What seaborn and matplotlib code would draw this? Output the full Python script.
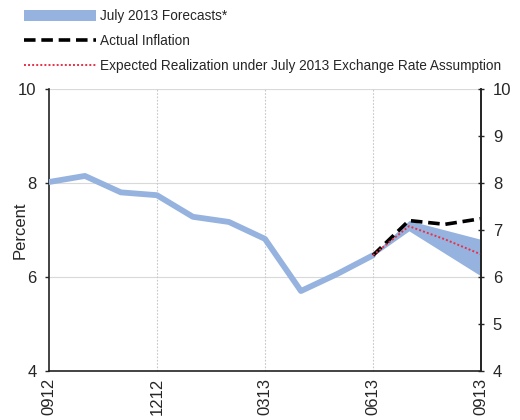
import numpy as np
import pandas as pd
import matplotlib
matplotlib.use("Agg")
import matplotlib.pyplot as plt
import seaborn as sns
from matplotlib.patches import Patch
from matplotlib.lines import Line2D

# months since 09/2012
hist_month = [0, 1, 2, 3, 4, 5, 6, 7, 8, 9]
hist_value = [8.02, 8.15, 7.80, 7.74, 7.28, 7.17, 6.81, 5.70, 6.06, 6.46]

fan_month = [9, 10, 11, 12]
fan_low = [6.44, 6.98, 6.50, 6.02]
fan_high = [6.48, 7.20, 7.00, 6.80]

actual_month = [9, 10, 11, 12]
actual_value = [6.46, 7.20, 7.12, 7.24]

expected_month = [9, 10, 11, 12]
expected_value = [6.46, 7.08, 6.80, 6.48]

tick_months = [0, 3, 6, 9, 12]
tick_labels = ["0912", "1212", "0313", "0613", "0913"]

sns.set_style("white")
plt.rcParams['font.family'] = ['Liberation Sans', 'DejaVu Sans']

blue = "#95b3de"
red = "#e8304a"

fig = plt.figure(figsize=(5.2, 4.2), dpi=100)
ax = fig.add_axes([0.094, 0.117, 0.831, 0.671])

hist = pd.DataFrame({"month": hist_month, "value": hist_value})
actual = pd.DataFrame({"month": actual_month, "value": actual_value})
expected = pd.DataFrame({"month": expected_month, "value": expected_value})

ax.fill_between(fan_month, fan_low, fan_high, color=blue, lw=0, zorder=2)
sns.lineplot(data=hist, x="month", y="value", ax=ax, color=blue, lw=4.2,
             solid_joinstyle="round", zorder=3)
sns.lineplot(data=actual, x="month", y="value", ax=ax, color="black", lw=2.6,
             dashes=(3.2, 1.6), zorder=4)
sns.lineplot(data=expected, x="month", y="value", ax=ax, color=red, lw=1.4,
             linestyle=(0, (1, 1.1)), zorder=5)

ax.set_xlim(0, 12)
ax.set_ylim(4, 10)
ax.set_yticks([4, 6, 8, 10])
ax.set_xticks(tick_months)
ax.set_xticklabels(tick_labels, rotation=90)
ax.set_xlabel("")
ax.set_ylabel("Percent", fontsize=12)
ax.yaxis.set_label_coords(-0.05, 0.5)

# grid
for y in [6, 8, 10]:
    ax.axhline(y, color="#d9d9d9", lw=0.8, zorder=1)
for x in [3, 6, 9]:
    ax.axvline(x, color="#c8c8c8", lw=0.8, ls=(0, (1.5, 1.5)), zorder=1)

for s in ["left", "bottom", "right"]:
    ax.spines[s].set_color("#222222")
    ax.spines[s].set_linewidth(1.2)
ax.spines["top"].set_visible(False)

ax.tick_params(axis="y", direction="out", length=3, width=1, labelsize=12, pad=6)
ax.tick_params(axis="x", direction="inout", length=6, width=1, labelsize=12, pad=2)

ax2 = ax.twinx()
ax2.set_ylim(4, 10)
ax2.set_yticks(range(4, 11))
ax2.spines["top"].set_visible(False)
ax2.spines["left"].set_visible(False)
ax2.spines["bottom"].set_visible(False)
ax2.spines["right"].set_color("#222222")
ax2.spines["right"].set_linewidth(1.2)
ax2.tick_params(axis="y", direction="inout", length=5, width=1, labelsize=12, pad=6)

handles = [
    Patch(facecolor=blue, edgecolor="none"),
    Line2D([], [], color="black", lw=2.6, dashes=(3.2, 1.6)),
    Line2D([], [], color=red, lw=1.4, linestyle=(0, (1, 1.1))),
]
labels = [
    "July 2013 Forecasts*",
    "Actual Inflation",
    "Expected Realization under July 2013 Exchange Rate Assumption",
]
fig.legend(handles, labels, loc="upper left", bbox_to_anchor=(0.030, 0.998),
           frameon=False, fontsize=9.8, handlelength=5.3, handleheight=0.9,
           handletextpad=0.3, labelspacing=0.82, borderaxespad=0.2)

fig.savefig("out.png", dpi=100)
